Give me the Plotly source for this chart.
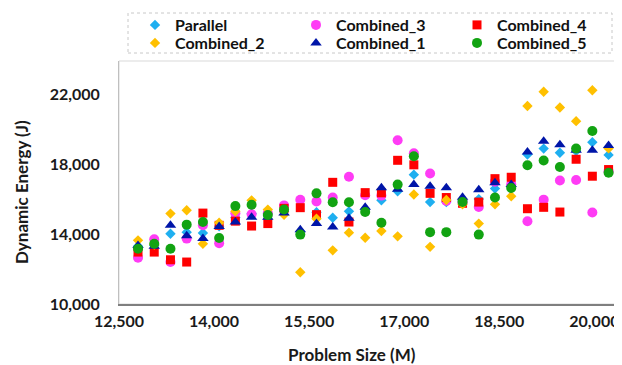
import plotly.graph_objects as go

problem_size = [12800, 13056, 13312, 13568, 13824, 14080, 14336, 14592, 14848, 15104,
                15360, 15616, 15872, 16128, 16384, 16640, 16896, 17152, 17408, 17664,
                17920, 18176, 18432, 18688, 18944, 19200, 19456, 19712, 19968, 20224]

parallel = [13300, 13350, 14020, 14110, 14060, 14450, 14950, 15180, 15160, 15300,
            14150, 15250, 14930, 15300, 15410, 15930, 16450, 17400, 15830, 15830,
            15900, 16000, 16600, 16700, 18550, 18890, 18650, 18750, 19250, 18530]

combined_2 = [13640, 13400, 15170, 15360, 13440, 14650, 15300, 15930, 15400, 15100,
              11820, 14880, 13070, 14080, 13790, 14180, 13870, 16260, 13270, 15950,
              15700, 14600, 15700, 16160, 21330, 22140, 21240, 20460, 22230, 18900]

combined_3 = [12650, 13700, 12400, 13740, 14500, 13480, 15190, 15130, 15200, 15640,
              15960, 15870, 16090, 17280, 16220, 16200, 19370, 18620, 17460, 15900,
              15800, 15550, 17000, 16850, 14730, 15970, 17060, 17090, 15230, 17600]

combined_1 = [13350, 13300, 14500, 13900, 13740, 14440, 14690, 14960, 14960, 15200,
              14250, 14600, 14400, 14900, 15530, 16650, 16560, 16830, 16730, 16650,
              16100, 16540, 16930, 16830, 18700, 19310, 19110, 18800, 18800, 19060]

combined_4 = [12970, 12970, 12530, 12400, 15200, 14500, 14740, 14460, 14600, 15470,
              15510, 15110, 16960, 14690, 16370, 16360, 18220, 17960, 16330, 16090,
              15760, 15830, 17170, 17250, 15450, 15530, 15260, 18280, 17310, 17690]

combined_5 = [13160, 13450, 13160, 14540, 14690, 13780, 15600, 15680, 15090, 15410,
              13970, 16330, 15820, 15820, 15260, 14650, 16830, 18450, 14110, 14110,
              15830, 13970, 16090, 16640, 17940, 18210, 17840, 18890, 19900, 17510]

x_ticks = [12500, 14000, 15500, 17000, 18500, 20000]
y_ticks = [10000, 14000, 18000, 22000]

# (name, values, symbol, colour, size, legend row)
series = [
    ("Parallel", parallel, "diamond", "#1EAFF0", 8, "legend"),
    ("Combined_3", combined_3, "circle", "#FF3CF5", 10, "legend"),
    ("Combined_4", combined_4, "square", "#FF0000", 9, "legend"),
    ("Combined_2", combined_2, "diamond", "#FFC000", 8, "legend2"),
    ("Combined_1", combined_1, "triangle-up", "#0015A8", 10, "legend2"),
    ("Combined_5", combined_5, "circle", "#12A312", 10, "legend2"),
]

FONT = "Lato"
fig = go.Figure()
for name, vals, sym, col, sz, lg in series:
    fig.add_trace(go.Scatter(
        x=problem_size, y=vals, mode="markers", name=name, legend=lg,
        marker=dict(symbol=sym, color=col, size=sz, line=dict(width=0)),
    ))

# the page body adds an 8px offset; work in screen pixels
OFF = 8
W, H = 622 - OFF, 365 - OFF
L, R, T, B = 119 - OFF, 1, 61 - OFF, 61
pw, ph = W - L - R, H - T - B

def px(xs):
    return (xs - OFF - L) / pw

def py(ys):
    return (H - B - (ys - OFF)) / ph

legend_common = dict(
    orientation="h", xanchor="left", yanchor="middle",
    entrywidth=116, entrywidthmode="pixels",
    font=dict(family=FONT, size=16, color="#111111", weight="bold"),
    bgcolor="rgba(0,0,0,0)", borderwidth=0, itemsizing="trace",
)

fig.update_layout(
    width=W, height=H,
    margin=dict(l=L, r=R, t=T, b=B, autoexpand=False),
    paper_bgcolor="white", plot_bgcolor="white",
    font=dict(family=FONT, size=16, color="#1a1a1a", weight="bold"),
    showlegend=True,
    legend=dict(x=px(135), y=py(25), **legend_common),
    legend2=dict(x=px(135), y=py(43), **legend_common),
    xaxis=dict(
        range=[12500, 20420], tickvals=x_ticks, tickformat=",",
        showgrid=False, zeroline=False, showline=True,
        linecolor="#7f7f7f", linewidth=2, ticks="",
        ticklabelstandoff=2,
        tickfont=dict(family=FONT, size=16, color="#1a1a1a", weight="bold"),
    ),
    yaxis=dict(
        range=[10000, 23900], tickvals=y_ticks, tickformat=",",
        showgrid=False, zeroline=False, showline=True,
        linecolor="#bfbfbf", linewidth=1, ticks="",
        ticklabelstandoff=15,
        tickfont=dict(family=FONT, size=16, color="#1a1a1a", weight="bold"),
    ),
    shapes=[
        dict(type="rect", xref="paper", yref="paper", x0=0, x1=1, y0=0, y1=1,
             line=dict(color="#d9d9d9", width=1), layer="below"),
        dict(type="rect", xref="paper", yref="paper",
             x0=px(128), x1=px(612), y0=py(53), y1=py(13),
             line=dict(color="#c8c8c8", width=1, dash="dot"), layer="below"),
    ],
    annotations=[
        dict(text="Dynamic Energy (J)", xref="paper", yref="paper",
             x=px(21), y=py(192), xanchor="center", yanchor="middle",
             textangle=-90, showarrow=False,
             font=dict(family=FONT, size=17, color="#1a1a1a", weight="bold")),
        dict(text="Problem Size (M)", xref="paper", yref="paper",
             x=px(351.5), y=py(354), xanchor="center", yanchor="middle",
             showarrow=False,
             font=dict(family=FONT, size=17, color="#1a1a1a", weight="bold")),
    ],
)

fig.write_html("out.html")
